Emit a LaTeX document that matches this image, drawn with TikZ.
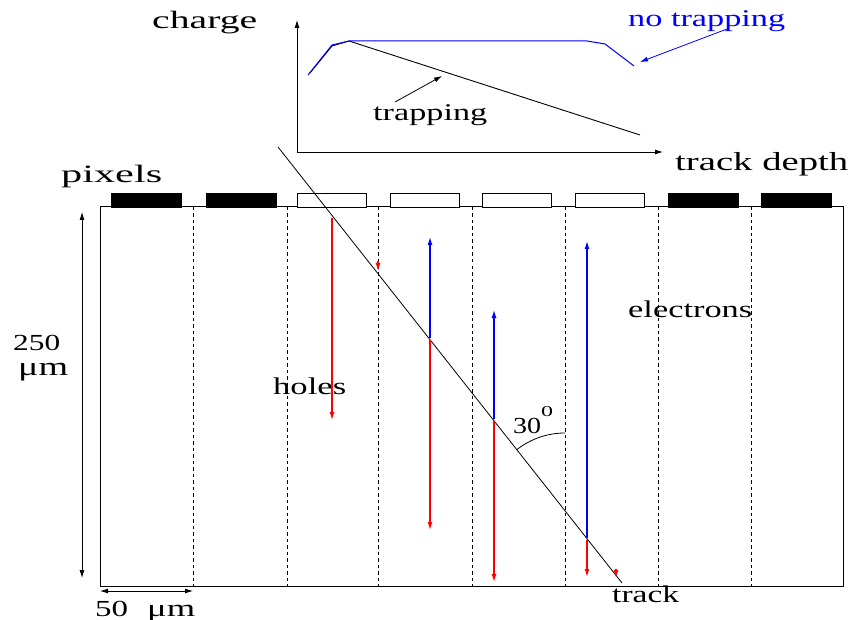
\documentclass[tikz,border=0pt]{standalone}
\usepackage{fontspec}
\setmainfont{Liberation Serif}
\usetikzlibrary{arrows.meta}
\newcommand\wlab[2]{\resizebox{#1pt}{\height}{#2}}
\begin{document}
\begin{tikzpicture}[x=1pt,y=-1pt,
  lab/.style={font=\fontsize{24}{24}\selectfont, inner sep=0pt, anchor=base west},
  arr/.style={-{Latex[length=8pt,width=5pt]}},
  darr/.style={{Latex[length=8pt,width=5pt]}-{Latex[length=8pt,width=5pt]}},
  sep/.style={dashed, dash pattern=on 3.5pt off 3pt, line width=0.8pt},
  thin/.style={line width=0.8pt},
  padblack/.style={fill=black, draw=black, line width=0.6pt},
  padwhite/.style={fill=white, draw=black, line width=0.8pt},
  holearr/.style={arr, draw=red, line width=1.2pt},
  elecarr/.style={arr, draw=blue, line width=1.2pt}]
\useasboundingbox (0,0) rectangle (856,620);

% sensor
\draw[line width=1pt] (100,207) rectangle (843,586);
\foreach \x in {193,287,378,472,565,658,751}
  \draw[sep] (\x,207) -- (\x,586);

% pixels
\foreach \x in {111,206,668,761}
  \draw[padblack] (\x,193) rectangle ++(70,14);
\foreach \x in {297,390,482,575}
  \draw[padwhite] (\x,193) rectangle ++(69,14);

% charge plot
\coordinate (O) at (297,152);
\coordinate (ytip) at (297,20);
\coordinate (xtip) at (663,152);
\draw[thin,arr] (O) -- (ytip);
\draw[thin,arr] (O) -- (xtip);
\draw[line width=0.9pt] (310,73) -- (332,46) -- (349,41) -- (640,135);
\draw[blue,line width=1pt] (308,75) -- (332,45) -- (349,41) -- (587,41) -- (605,44) -- (634,66);

\node[lab] (charge) at (152,29) {\wlab{105}{\fontsize{25}{25}\selectfont charge}};
\node[lab] (trackdepth) at (675,171) {\wlab{173}{\fontsize{26}{26}\selectfont track depth}};
\node[lab] (trapping) at (373,121) {\wlab{114}{trapping}};
\node[lab,text=blue] (notrapping) at (628,27) {\wlab{157}{no trapping}};
\coordinate (trapS) at (395,102);
\coordinate (trapE) at (442,76);
\draw[thin,arr] (trapS) -- (trapE);
\coordinate (ntS) at (727,29);
\coordinate (ntE) at (640,62);
\draw[thin,arr,blue] (ntS) -- (ntE);

% labels
\node[lab] (pixels) at (61,183) {\wlab{101}{\fontsize{25}{25}\selectfont pixels}};
\node[lab] (n250) at (13,350) {\wlab{47}{\fontsize{23}{23}\selectfont 250}};
\node[lab] (mum) at (18,375) {\wlab{50}{\fontsize{26}{26}\selectfont μm}};
\node[lab] (holes) at (273,394) {\wlab{73}{holes}};
\node[lab] (electrons) at (628,317) {\wlab{124}{electrons}};
\node[lab] (track) at (612,602) {\wlab{67}{track}};
\node[lab] (thirty) at (513,433) {\wlab{28}{\fontsize{23}{23}\selectfont 30}};
\node[lab] (deg) at (541,416) {\wlab{12}{\fontsize{15}{15}\selectfont 0}};
\node[lab] (fifty) at (95,616) {\wlab{33}{\fontsize{23}{23}\selectfont 50}};
\node[lab] (mum2) at (147,616) {\wlab{48}{\fontsize{24}{24}\selectfont μm}};

% dimension arrows
\coordinate (vT) at (82,212);
\coordinate (vB) at (82,578);
\draw[thin,darr] (vT) -- (vB);
\coordinate (hL) at (100,591);
\coordinate (hR) at (193,591);
\draw[thin,darr] (hL) -- (hR);

% track
\coordinate (tA) at (278,147);
\coordinate (tB) at (622,583);
\draw[line width=0.8pt] (tA) -- (tB);

% angle
\coordinate (vx) at (565,510.7);
\draw[line width=0.8pt] (565,433) arc[start angle=-90, end angle=-128.3, radius=78];

% charge carriers
\draw[holearr] (332,218) -- (332,420);
\draw[holearr] (378,261) -- (378,271);
\draw[elecarr] (430,338) -- (430,237);
\draw[holearr] (430,340) -- (430,530);
\draw[elecarr] (494,419) -- (494,310);
\draw[holearr] (494,421) -- (494,582);
\draw[elecarr] (587,538) -- (587,241);
\draw[holearr] (587,540) -- (587,577);
\draw[holearr] (616,569) -- (616,578);
\end{tikzpicture}
\end{document}
